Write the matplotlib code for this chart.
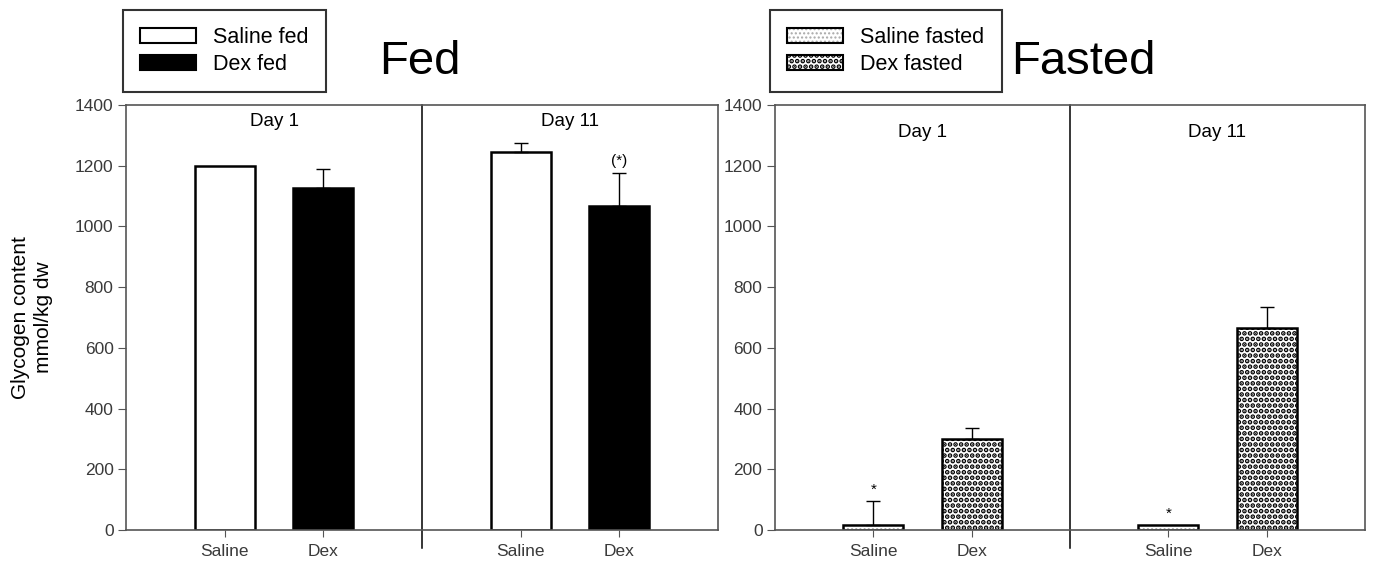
import matplotlib
matplotlib.use('Agg')
import matplotlib.pyplot as plt
import matplotlib.patches as mpatches
from matplotlib.legend_handler import HandlerTuple, HandlerPatch
import numpy as np

plt.rcParams['font.family'] = ['Liberation Sans', 'DejaVu Sans']

# values (mmol/kg dw)
days = ['Day 1', 'Day 11']
groups = ['Saline', 'Dex']
fed_mean = [1200, 1127, 1245, 1068]
fed_err = [0, 63, 30, 108]
fasted_mean = [15, 300, 17, 665]
fasted_err = [80, 35, 0, 70]
fed_marks = ['', '', '', '(*)']
fasted_marks = ['*', '', '*', '']

W, H = 1374, 563
fig = plt.figure(figsize=(W / 100, H / 100), dpi=100)

xpos = [1, 2, 4, 5]
AX_GREY = '#555555'

# (face colour, hatch, hatch colour, hatch linewidth)
FED_STYLE = [('white', None, 'black', 1.0), ('black', None, 'black', 1.0)]
FAST_STYLE = [('white', '....', '#a8a8a8', 1.0), ('white', '...', 'black', 2.4)]


def panel(rect, means, errs, marks, styles, day_y):
    ax = fig.add_axes(rect)
    for i, (x, m) in enumerate(zip(xpos, means)):
        fc, hatch, hc, hlw = styles[i % 2]
        with plt.rc_context({'hatch.linewidth': hlw}):
            ax.bar(x, m, 0.61, color=fc, edgecolor=hc, linewidth=0,
                   hatch=hatch, zorder=2)
        ax.bar(x, m, 0.61, fill=False, edgecolor='black', linewidth=1.8,
               zorder=2.5)
        if errs[i] > 0:
            ax.errorbar(x, m, yerr=[[0], [errs[i]]], color='black', lw=1,
                        capsize=5, capthick=1, zorder=3)
        if marks[i]:
            ax.text(x, m + errs[i] + 15, marks[i], ha='center', va='bottom',
                    fontsize=11)
    # divider between days
    ax.plot([3, 3], [-60, 1400], color='black', lw=1.1, clip_on=False)
    ax.text(1.5, day_y, days[0], ha='center', va='center', fontsize=13.5)
    ax.text(4.5, day_y, days[1], ha='center', va='center', fontsize=13.5)

    ax.set_xlim(0, 6)
    ax.set_ylim(0, 1400)
    ax.set_yticks(np.arange(0, 1401, 200))
    ax.set_xticks(xpos)
    ax.set_xticklabels(groups * 2)
    ax.tick_params(axis='y', direction='out', length=6, color=AX_GREY,
                   labelsize=12.5, labelcolor='#3a3a3a', pad=3)
    ax.tick_params(axis='x', direction='out', length=5, color=AX_GREY,
                   labelsize=12.5, labelcolor='#3a3a3a', pad=5)
    for s in ax.spines.values():
        s.set_color(AX_GREY)
        s.set_linewidth(1.2)
    return ax


ax1 = panel([126 / W, 33 / H, 592 / W, 425 / H], fed_mean, fed_err, fed_marks,
            FED_STYLE, 1345)
ax2 = panel([775 / W, 33 / H, 590 / W, 425 / H], fasted_mean, fasted_err,
            fasted_marks, FAST_STYLE, 1310)

ax1.set_ylabel('Glycogen content\nmmol/kg dw', fontsize=15, labelpad=16,
               linespacing=1.25)


# legends: hatched fill overlaid with a black outline
def make_fill_handler(hlw):
    def patch_func(legend, orig_handle, xdescent, ydescent, width, height, fontsize):
        with plt.rc_context({'hatch.linewidth': hlw}):
            return mpatches.Rectangle((-xdescent, -ydescent), width, height)
    return HandlerPatch(patch_func=patch_func)


def legend_handles(styles):
    out, hmap = [], {tuple: HandlerTuple(ndivide=1, pad=0)}
    for fc, hatch, hc, hlw in styles:
        fill = mpatches.Patch(facecolor=fc, edgecolor=hc, lw=0, hatch=hatch)
        edge = mpatches.Patch(fill=False, edgecolor='black', lw=1.5)
        hmap[fill] = make_fill_handler(hlw)
        out.append((fill, edge))
    return out, hmap


for styles, labels, x0 in [(FED_STYLE, ['Saline fed', 'Dex fed'], 123),
                           (FAST_STYLE, ['Saline fasted', 'Dex fasted'], 770)]:
    handles, hmap = legend_handles(styles)
    leg = fig.legend(handles, labels, loc='upper left', handler_map=hmap,
                     bbox_to_anchor=(x0 / W, 1 - 10 / H), borderaxespad=0,
                     fontsize=15.5, frameon=True, fancybox=False,
                     handlelength=2.6, handleheight=0.7, labelspacing=0.25,
                     borderpad=0.8, handletextpad=0.8)
    leg.get_frame().set_edgecolor('black')
    leg.get_frame().set_linewidth(1.5)

fig.text(420 / W, 1 - 62 / H, 'Fed', fontsize=34, ha='center', va='center')
fig.text(1083 / W, 1 - 62 / H, 'Fasted', fontsize=34, ha='center', va='center')

plt.savefig('out.png', dpi=100)
plt.close()
